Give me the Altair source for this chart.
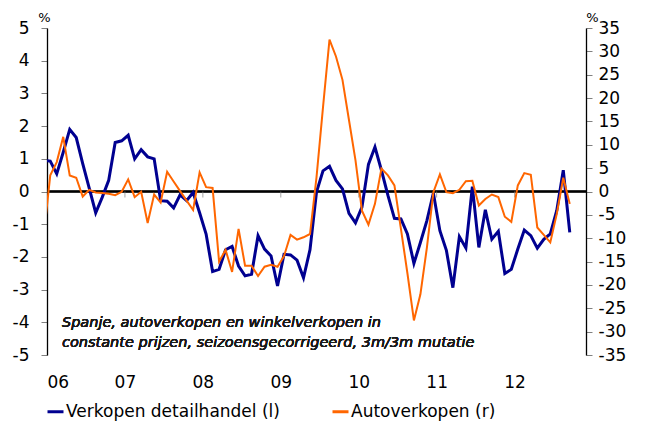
import altair as alt
import pandas as pd

# month index from Jan 2006 (-1 = Dec 2005, clipped at the axis)
months = list(range(-1, 81))

retail = [0.95,
          0.93, 0.54, 1.2, 1.9, 1.65, 0.85, 0.1, -0.65, -0.18, 0.34, 1.5, 1.55,
          1.72, 1.0, 1.28, 1.06, 1.0, -0.28, -0.3, -0.5, -0.1, -0.28, -0.03, -0.65,
          -1.3, -2.45, -2.38, -1.78, -1.68, -2.28, -2.58, -2.53, -1.35, -1.76, -1.97, -2.89,
          -1.92, -1.94, -2.1, -2.64, -1.78, -0.02, 0.63, 0.77, 0.34, 0.08, -0.67, -0.96,
          -0.48, 0.83, 1.36, 0.65, -0.12, -0.82, -0.84, -1.3, -2.2, -1.56, -0.89, -0.05,
          -1.2, -1.8, -2.94, -1.38, -1.73, 0.15, -1.71, -0.56, -1.46, -1.22, -2.51, -2.38,
          -1.76, -1.18, -1.35, -1.73, -1.46, -1.3, -0.58, 0.65, -1.25]

cars = [-9.5,
        3.45, 6.3, 11.7, 3.45, 2.95, -1.08, 0.36, -0.2, -0.3, -0.5, -0.8, -0.07,
        2.6, -1.22, -0.07, -6.75, -0.65, -2.37, 4.24, 2.15, 0.07, -1.94, -3.95, 4.1,
        0.93, 0.75, -15.0, -12.5, -17.2, -8.0, -15.9, -15.9, -18.1, -16.1, -15.7, -16.1,
        -13.8, -9.3, -10.3, -9.8, -9.1, 3.0, 18.0, 32.5, 28.9, 23.9, 15.3, 6.7,
        -4.1, -7.1, -2.65, 4.9, 3.45, 1.3, -8.0, -17.5, -27.6, -22.0, -12.0, -0.15,
        3.66, -0.15, -0.36, 0.36, 2.2, 2.3, -3.0, -1.6, -0.65, -1.2, -5.4, -6.5,
        1.3, 3.95, 3.6, -7.7, -9.3, -10.9, -4.8, 2.95, -2.65]

year_ticks = [0, 12, 24, 36, 48, 60, 72]
year_labels = ["06", "07", "08", "09", "10", "11", "12"]

left_ticks = [-5, -4, -3, -2, -1, 0, 1, 2, 3, 4, 5]
right_ticks = [-35, -30, -25, -20, -15, -10, -5, 0, 5, 10, 15, 20, 25, 30, 35]

name_l = "Verkopen detailhandel (l)"
name_r = "Autoverkopen (r)"
note = "Spanje, autoverkopen en winkelverkopen in\nconstante prijzen, seizoensgecorrigeerd, 3m/3m mutatie"

FONT = "DejaVu Sans"
X_MAX = 83

df_l = pd.DataFrame({"t": [m + 0.5 for m in months], "v": retail, "s": name_l})
df_r = pd.DataFrame({"t": [m + 0.5 for m in months], "v": cars, "s": name_r})
df_ticks = pd.DataFrame({"t": year_ticks[1:], "zero": 0})

label_expr = "[" + ",".join("'" + s + "'" for s in year_labels) + "][round(datum.value/12)]"
num_expr = "datum.value < 0 ? '-' + abs(datum.value) : '' + datum.value"

xscale = alt.Scale(domain=[0, X_MAX], nice=False, zero=False)
x_axis = alt.Axis(values=year_ticks, labelExpr=label_expr, ticks=False, domain=False,
                  grid=False, labelPadding=19, labelFontSize=17, labelFont=FONT,
                  labelColor="#000000", title=None)
yl_scale = alt.Scale(domain=[-5, 5], nice=False, zero=False)
yr_scale = alt.Scale(domain=[-35, 35], nice=False, zero=False)

yl_axis = alt.Axis(values=left_ticks, orient="left", grid=False, domainColor="#000000",
                   domainWidth=1.3, tickColor="#808080", tickSize=6, labelPadding=12,
                   labelFontSize=17, labelFont=FONT, labelColor="#000000",
                   labelOverlap=False, labelExpr=num_expr, tickCount=11,
                   title="%", titleAngle=0, titleX=-3, titleY=-7, titleAlign="center",
                   titleBaseline="alphabetic", titleFontSize=13, titleFont=FONT,
                   titleFontWeight="normal", titleColor="#000000")

yr_axis = alt.Axis(values=right_ticks, orient="right", grid=False, domainColor="#000000",
                   domainWidth=1.3, tickColor="#808080", tickSize=6, labelPadding=6,
                   labelFontSize=17, labelFont=FONT, labelColor="#000000",
                   labelOverlap=False, labelExpr=num_expr,
                   title="%", titleAngle=0, titleX=6, titleY=-7, titleAlign="center",
                   titleBaseline="alphabetic", titleFontSize=13, titleFont=FONT,
                   titleFontWeight="normal", titleColor="#000000")

color = alt.Color("s:N",
                  scale=alt.Scale(domain=[name_l, name_r], range=["#000090", "#FF6600"]),
                  legend=alt.Legend(orient="none", legendX=-1, legendY=374, direction="horizontal",
                                    title=None, symbolType="stroke", symbolStrokeWidth=3,
                                    symbolSize=256, labelFontSize=17, labelFont=FONT,
                                    labelColor="#000000", columnPadding=46, labelOffset=1,
                                    labelLimit=400))

blue = alt.Chart(df_l).mark_line(strokeWidth=3, clip=True).encode(
    x=alt.X("t:Q", scale=xscale, axis=x_axis),
    y=alt.Y("v:Q", scale=yl_scale, axis=yl_axis),
    color=color,
)

zero_rule = alt.Chart(df_ticks).mark_rule(color="#000000", strokeWidth=1.3).encode(
    y=alt.Y("zero:Q", scale=yl_scale, axis=yl_axis),
)

xticks = alt.Chart(df_ticks).mark_tick(color="#808080", orient="vertical", size=6,
                                        thickness=1, yOffset=3).encode(
    x=alt.X("t:Q", scale=xscale, axis=x_axis),
    y=alt.Y("zero:Q", scale=yl_scale, axis=yl_axis),
)

text = alt.Chart(df_ticks).mark_text(align="left", baseline="top", font=FONT, fontSize=14.5,
                                     fontStyle="italic", fontWeight="normal", lineHeight=20,
                                     lineBreak="\n", color="#1a1a1a").encode(
    x=alt.datum(2.3),
    y=alt.datum(-3.80),
    text=alt.value(note),
)

left = alt.layer(zero_rule, xticks, blue, text)

orange = alt.Chart(df_r).mark_line(strokeWidth=2, clip=True).encode(
    x=alt.X("t:Q", scale=xscale, axis=x_axis),
    y=alt.Y("v:Q", scale=yr_scale, axis=yr_axis),
    color=color,
)

chart = alt.layer(left, orange).resolve_scale(y="independent").properties(
    width=539, height=327,
    autosize=alt.AutoSizeParams(type="none"),
    padding={"left": 39, "top": 20, "right": 50, "bottom": 66},
).configure_view(stroke=None).configure_axis(labelOverlap=False, labelSeparation=0)

chart.save("out.html", embed_options={"renderer": "svg", "actions": False})
